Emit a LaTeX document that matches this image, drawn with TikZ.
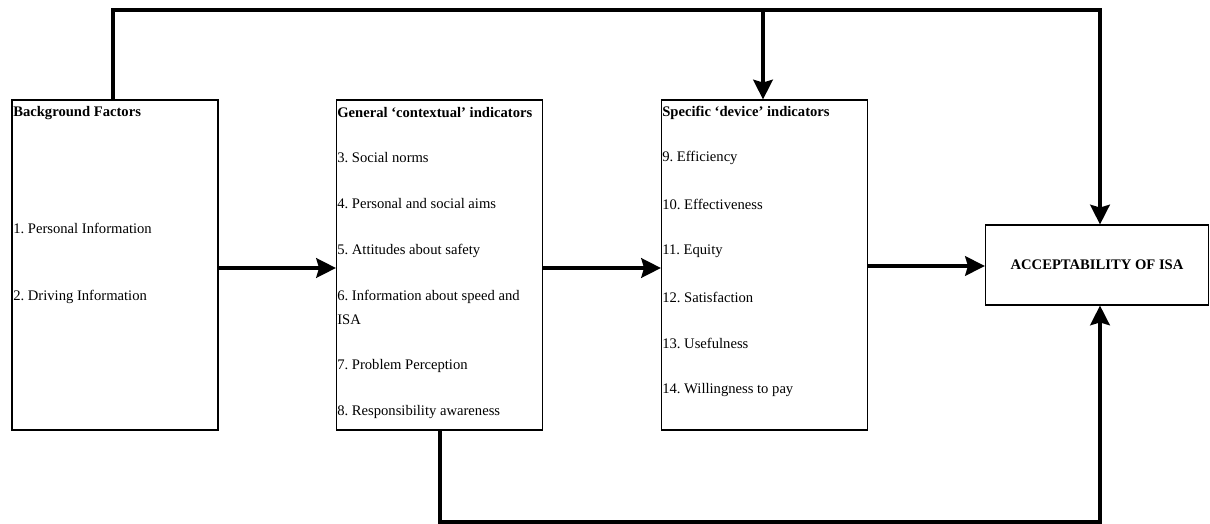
\documentclass[tikz,border=0pt]{standalone}
\usepackage{fontspec}
\setmainfont{Liberation Serif}
\usetikzlibrary{arrows.meta,positioning}
\frenchspacing

\begin{document}
\begin{tikzpicture}[x=0.025cm,y=-0.025cm,font=\fontsize{10.4}{12}\selectfont,
  box/.style={draw,line width=0.8pt,minimum width=5.15cm,minimum height=8.25cm,inner sep=0pt},
  item/.style={anchor=west,inner sep=0pt},
  flow/.style={line width=2.2pt,-{Stealth[length=14pt,width=14pt,inset=2pt]}},
  link/.style={line width=2.2pt}]
\useasboundingbox (0,0) rectangle (1210,524);
% the three indicator boxes
\node[box] (bg) at (115,265) {};
\node[box] (gen) at (439.5,265) {};
\node[box] (spec) at (764.5,265) {};
\node[draw,line width=0.8pt,minimum width=5.58cm,minimum height=2cm,inner sep=0pt,
  font=\fontsize{10.4}{12}\selectfont\bfseries] (acc) at (1097,265) {ACCEPTABILITY OF ISA};
% texts
\node[item] (bgt) at (13,113) {\textbf{Background Factors}};
\node[item] (bg1) at (13,228) {1. Personal Information};
\node[item] (bg2) at (13,297) {2. Driving Information};
\node[item] (gent) at (337,113) {\textbf{General ‘contextual’ indicators}};
\foreach \t/\y [count=\i from 3] in {Social norms/158,Personal and social aims/204,
    Attitudes about safety/251,Information about speed and/297,Problem Perception/366,
    Responsibility awareness/412}
  \node[item] (g\i) at (337,\y) {\i. \t};
\node[item] (g6b) at (337,320) {ISA};
\node[item] (spect) at (662,113) {\textbf{Specific ‘device’ indicators}};
\foreach \t/\y [count=\i from 9] in {Efficiency/158,Effectiveness/204,Equity/251,
    Satisfaction/297,Usefulness/343,Willingness to pay/390}
  \node[item] (s\i) at (662,\y) {\i. \t};
% connectors
\coordinate (tl) at (113,10);
\coordinate (tr) at (1100,10);
\coordinate (tm) at (763,10);
\coordinate (bl) at (440,522);
\coordinate (br) at (1100,522);
\draw[flow] (bg.east|-0,268) -- (gen.west|-0,268);
\draw[flow] (gen.east|-0,268) -- (spec.west|-0,268);
\draw[flow] (spec.east|-0,266) -- (acc.west|-0,266);
\draw[flow] (bg.north-|tl) -- (tl) -- (tr) -- (acc.north-|tr);
\draw[flow] (tm) -- (spec.north-|tm);
\draw[flow] (gen.south-|bl) -- (bl) -- (br) -- (acc.south-|br);
\end{tikzpicture}
\end{document}
